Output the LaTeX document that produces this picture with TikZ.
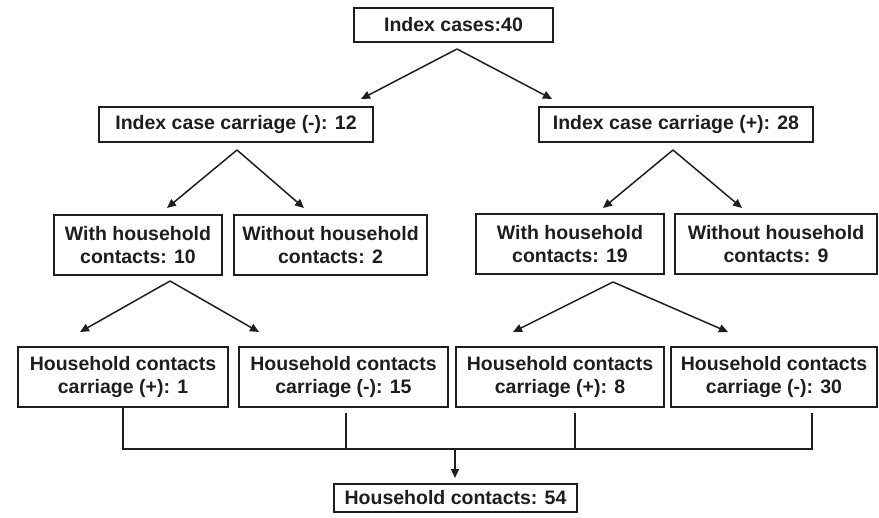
\documentclass[tikz,border=0pt]{standalone}
\usepackage{fontspec}
\setmainfont{Liberation Sans}
\usetikzlibrary{arrows.meta}
\definecolor{ink}{HTML}{1E1E1E}
\begin{document}
\begin{tikzpicture}[x=1pt,y=-1pt,
  box/.style={draw=ink, line width=1.6pt, inner sep=0pt, align=center,
    font=\fontsize{19.5}{23}\selectfont\bfseries, text=ink},
  arr/.style={line width=1.5pt, draw=ink, -{Triangle[length=9pt,width=8pt]}},
  bar/.style={line width=1.8pt, draw=ink},
  barv/.style={line width=2.4pt, draw=ink}]
\useasboundingbox (0,0) rectangle (879,518);
% boxes
\node[box, minimum width=199pt, minimum height=34pt] (top) at (453.5,25) {Index cases:40};
\node[box, minimum width=274pt, minimum height=35pt] (l2a) at (236,124.5) {Index case carriage (-): 12};
\node[box, minimum width=274pt, minimum height=35pt] (l2b) at (676,124.5) {Index case carriage (+): 28};
\node[box, minimum width=168pt, minimum height=60pt] (l3a) at (138,245) {With household\\contacts: 10};
\node[box, minimum width=193pt, minimum height=60pt] (l3b) at (330.5,245) {Without household\\contacts: 2};
\node[box, minimum width=188pt, minimum height=60pt] (l3c) at (570,244) {With household\\contacts: 19};
\node[box, minimum width=202pt, minimum height=60pt] (l3d) at (776,244) {Without household\\contacts: 9};
\node[box, minimum width=210pt, minimum height=60pt] (l4a) at (123,377) {Household contacts\\carriage (+): 1};
\node[box, minimum width=209pt, minimum height=60pt] (l4b) at (343.5,377) {Household contacts\\carriage (-): 15};
\node[box, minimum width=208pt, minimum height=60pt] (l4c) at (560,377) {Household contacts\\carriage (+): 8};
\node[box, minimum width=206pt, minimum height=60pt] (l4d) at (774,377) {Household contacts\\carriage (-): 30};
\node[box, minimum width=243pt, minimum height=28pt] (bot) at (455.5,498) {Household contacts: 54};
% arrow coordinates
\coordinate (s0) at (457,49);
\coordinate (t0a) at (361,99);
\coordinate (t0b) at (552,99);
\coordinate (s1) at (237,150);
\coordinate (t1a) at (167,208);
\coordinate (t1b) at (304,208);
\coordinate (s2) at (673,150);
\coordinate (t2a) at (603,208);
\coordinate (t2b) at (742,208);
\coordinate (s3) at (170,281);
\coordinate (t3a) at (80,332);
\coordinate (t3b) at (259,332);
\coordinate (s4) at (613,282);
\coordinate (t4a) at (513,332);
\coordinate (t4b) at (728,332);
\draw[arr] (s0) -- (t0a);
\draw[arr] (s0) -- (t0b);
\draw[arr] (s1) -- (t1a);
\draw[arr] (s1) -- (t1b);
\draw[arr] (s2) -- (t2a);
\draw[arr] (s2) -- (t2b);
\draw[arr] (s3) -- (t3a);
\draw[arr] (s3) -- (t3b);
\draw[arr] (s4) -- (t4a);
\draw[arr] (s4) -- (t4b);
% bottom bracket
\coordinate (ja) at (123,449);
\coordinate (vb) at (346,413);
\coordinate (jb) at (346,449);
\coordinate (vc) at (575,413);
\coordinate (jc) at (575,449);
\coordinate (vd) at (812,413);
\coordinate (jd) at (812,449);
\coordinate (jm) at (455,449);
\coordinate (tm) at (455,478);
\draw[bar] (l4a.south) -- (ja) -- (jd) -- (vd);
\draw[barv] (vb) -- (jb);
\draw[barv] (vc) -- (jc);
\draw[barv] (vd) -- (jd);
\draw[arr] (jm) -- (tm);
\end{tikzpicture}
\end{document}
